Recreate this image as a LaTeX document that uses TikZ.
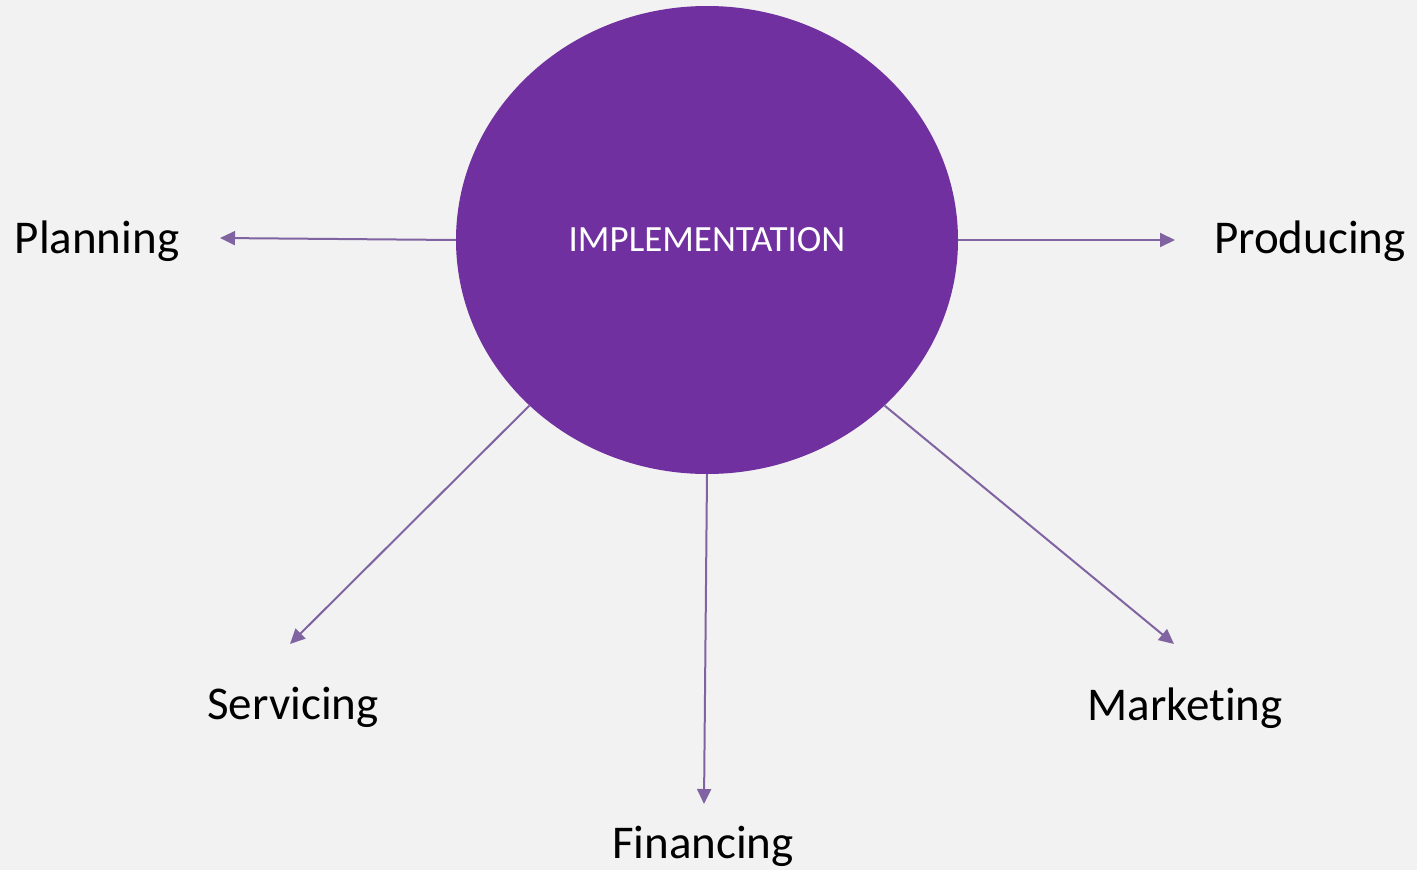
\documentclass[tikz,border=0pt]{standalone}
\usepackage{fontspec}
\setmainfont[Ligatures=NoCommon]{Carlito}
\usetikzlibrary{arrows.meta,shapes.geometric}
\definecolor{bgc}{HTML}{F2F2F2}
\definecolor{implc}{HTML}{7030A0}
\definecolor{linec}{HTML}{8064A2}
\begin{document}
\begin{tikzpicture}[x=1pt,y=-1pt,
  label/.style={anchor=base,inner sep=0pt,text=black,font=\fontsize{47}{56}\selectfont},
  conn/.style={draw=linec,line width=2pt,-{Triangle[length=15pt,width=14pt]}}]
\fill[bgc] (0,0) rectangle (1417,870);
\useasboundingbox (0,0) rectangle (1417,870);
\node[ellipse,fill=implc,minimum width=502pt,minimum height=468pt,inner sep=0pt,
  text=white,font=\fontsize{37}{44}\selectfont] (impl) at (707,240) {IMPLEMENTATION};
\node[label] (planning) at (97,253) {Planning};
\node[label] (producing) at (1310,253) {Producing};
\node[label] (servicing) at (293,719) {Servicing};
\node[label] (marketing) at (1185,720) {Marketing};
\node[label] (financing) at (703,858) {Financing};
\coordinate (tplan) at (220,238);
\coordinate (tprod) at (1175,240);
\coordinate (tserv) at (290,644);
\coordinate (tmark) at (1174,644);
\coordinate (tfin) at (704,804);
\draw[conn] (impl.west) -- (tplan);
\draw[conn] (impl.east) -- (tprod);
\draw[conn] (impl.-137) -- (tserv);
\draw[conn] (impl.-43) -- (tmark);
\draw[conn] (impl.south) -- (tfin);
\end{tikzpicture}
\end{document}
